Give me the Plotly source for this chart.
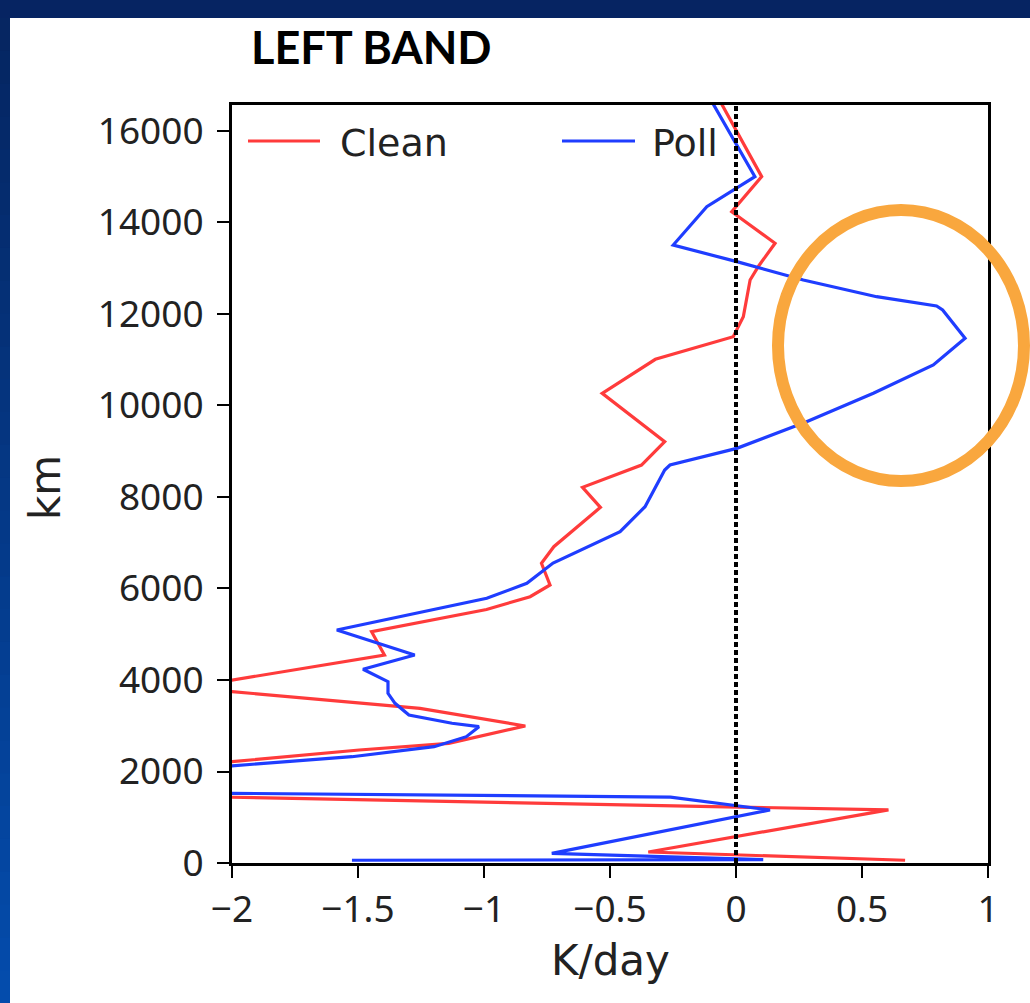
import plotly.graph_objects as go

# Heating-rate profiles (K/day) against height (m), listed bottom to top
clean_z = [60, 240, 1160, 1572, 2470, 2616, 2995, 3381, 3834, 4546, 5056, 5540,
           5821, 6077, 6550, 6914, 7774, 8211, 8699, 9209, 10266, 11010, 11504,
           11941, 12743, 13050, 13545, 14236, 15002, 16700]
clean_k = [0.671, -0.348, 0.605, -3.27, -1.495, -1.14, -0.836, -1.254, -2.18,
           -1.395, -1.446, -0.99, -0.817, -0.738, -0.772, -0.723, -0.538, -0.609,
           -0.375, -0.283, -0.531, -0.32, -0.011, 0.029, 0.056, 0.09, 0.155,
           -0.017, 0.102, -0.068]

poll_z = [60, 75, 211, 1158, 1440, 1586, 2323, 2543, 2761, 2980, 3054, 3235,
          3490, 3709, 3963, 4234, 4546, 5093, 5786, 6113, 6557, 6805, 7242, 7788,
          8590, 8699, 9063, 9646, 10266, 10885, 11468, 12087, 12175, 12378, 12743,
          13144, 13508, 14346, 14710, 15002, 16700]
poll_k = [-1.524, 0.108, -0.731, 0.135, -0.26, -3.29, -1.524, -1.198, -1.07,
          -1.02, -1.127, -1.298, -1.353, -1.381, -1.381, -1.48, -1.275, -1.584,
          -0.989, -0.83, -0.726, -0.631, -0.46, -0.361, -0.283, -0.262, 0.003,
          0.28, 0.545, 0.783, 0.909, 0.82, 0.796, 0.558, 0.267, 0.003, -0.249,
          -0.116, -0.011, 0.075, -0.102]

x_ticks = [-2, -1.5, -1, -0.5, 0, 0.5, 1]
x_tick_text = ["\u22122", "\u22121.5", "\u22121", "\u22120.5", "0", "0.5", "1"]
y_ticks = [0, 2000, 4000, 6000, 8000, 10000, 12000, 14000, 16000]
y_tick_text = [str(v) for v in y_ticks]

series_names = ["Clean", "Poll"]
series_colors = ["#ff3b3b", "#1f3dff"]

W, H = 1030, 1003
L, R, T, B = 232, 988, 105, 863  # plot-area edges in pixels


def px(xp):
    return (xp - L) / (R - L)


def py(yp):
    return (B - yp) / (B - T)


fig = go.Figure()
for name, xs, zs, col in [("Clean", clean_k, clean_z, series_colors[0]),
                          ("Poll", poll_k, poll_z, series_colors[1])]:
    fig.add_trace(go.Scatter(x=xs, y=zs, mode="lines", name=name,
                             line=dict(color=col, width=3.2), showlegend=False))

shapes = []
# navy slide background with a blue gradient down the left edge
shapes.append(dict(type="rect", xref="paper", yref="paper", layer="below",
                   x0=px(0), x1=px(W), y0=py(H), y1=py(0),
                   fillcolor="#062462", line_width=0))
nb = 30
for i in range(nb):
    t = i / (nb - 1)
    r = int(6 + (4 - 6) * t)
    g = int(38 + (76 - 38) * t)
    b = int(98 + (172 - 98) * t)
    y0p = 18 + (H - 18) * i / nb
    y1p = 18 + (H - 18) * (i + 1) / nb
    shapes.append(dict(type="rect", xref="paper", yref="paper", layer="below",
                       x0=px(0), x1=px(11), y0=py(y1p + 1), y1=py(y0p),
                       fillcolor=f"rgb({r},{g},{b})", line_width=0))
shapes.append(dict(type="rect", xref="paper", yref="paper", layer="below",
                   x0=px(10), x1=px(W), y0=py(H), y1=py(18),
                   fillcolor="white", line_width=0))
# zero reference line
shapes.append(dict(type="line", xref="x", yref="y", x0=0, x1=0, y0=0, y1=16568,
                   line=dict(color="black", width=4, dash="5px,3px")))
# legend samples
shapes.append(dict(type="line", xref="paper", yref="paper",
                   x0=px(248), x1=px(320), y0=py(141), y1=py(141),
                   line=dict(color=series_colors[0], width=3.2)))
shapes.append(dict(type="line", xref="paper", yref="paper",
                   x0=px(562), x1=px(635), y0=py(141), y1=py(141),
                   line=dict(color=series_colors[1], width=3.2)))
# highlight ring around the upper-level warming
shapes.append(dict(type="circle", xref="paper", yref="paper",
                   x0=px(778), x1=px(1024), y0=py(481), y1=py(210),
                   line=dict(color="#f9a73e", width=12)))

txt_font = dict(family="DejaVu Sans", color="#222222")
annotations = [
    dict(text="LEFT BAND", xref="paper", yref="paper", x=px(249), y=py(47),
         xanchor="left", yanchor="middle", showarrow=False,
         font=dict(family="Liberation Sans Narrow, Lato, sans-serif", size=45,
                   color="black", weight="bold")),
    dict(text=series_names[0], xref="paper", yref="paper", x=px(338), y=py(143),
         xanchor="left", yanchor="middle", showarrow=False,
         font=dict(size=38, **txt_font)),
    dict(text=series_names[1], xref="paper", yref="paper", x=px(650), y=py(143),
         xanchor="left", yanchor="middle", showarrow=False,
         font=dict(size=38, **txt_font)),
    dict(text="K/day", xref="paper", yref="paper", x=px(610), y=py(960),
         xanchor="center", yanchor="middle", showarrow=False,
         font=dict(size=42, **txt_font)),
    dict(text="km", xref="paper", yref="paper", x=px(45), y=py(488),
         xanchor="center", yanchor="middle", showarrow=False, textangle=-90,
         font=dict(size=42, **txt_font)),
]

tick_font = dict(family="Noto Sans", size=37, color="#222222")
fig.update_layout(
    width=W, height=H,
    margin=dict(l=L, r=W - R, t=T, b=H - B, pad=0),
    paper_bgcolor="#062462", plot_bgcolor="white",
    shapes=shapes, annotations=annotations, showlegend=False,
    xaxis=dict(range=[-2, 1], tickvals=x_ticks, ticktext=x_tick_text,
               showgrid=False, zeroline=False, showline=True, linecolor="black",
               linewidth=3, mirror=True, ticks="outside", ticklen=12,
               tickwidth=2, tickcolor="black", tickfont=tick_font),
    yaxis=dict(range=[0, 16568], tickvals=y_ticks, ticktext=y_tick_text,
               showgrid=False, zeroline=False, showline=True, linecolor="black",
               linewidth=3, mirror=True, ticks="outside", ticklen=12,
               tickwidth=2, tickcolor="black", tickfont=tick_font,
               ticklabelstandoff=6),
)

fig.write_html("out.html")
